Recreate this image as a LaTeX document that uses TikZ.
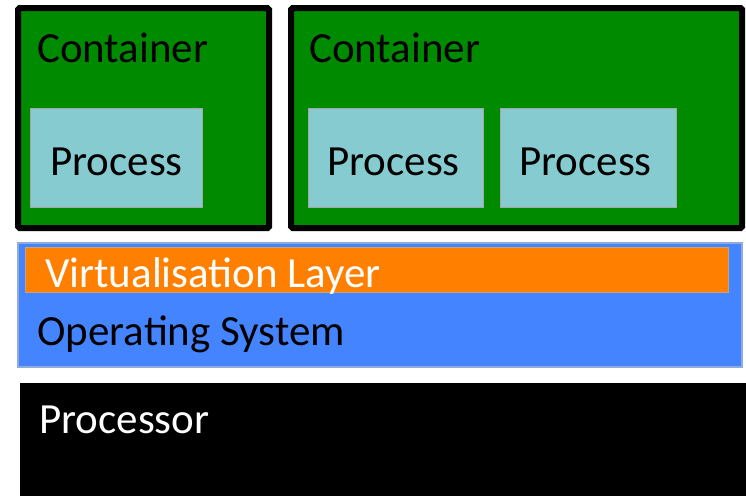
\documentclass[tikz,border=0pt]{standalone}
\usepackage{fontspec}
\setmainfont{Carlito}
\definecolor{cgreen}{HTML}{008A00}
\definecolor{cproc}{HTML}{85CBCF}
\definecolor{cblue}{HTML}{4584FF}
\definecolor{cblueline}{HTML}{8FAADC}
\definecolor{corange}{HTML}{FF7F00}
\definecolor{corangeline}{HTML}{C9A27A}
\begin{document}
\begin{tikzpicture}[x=1pt,y=-1pt,
  every node/.style={inner sep=0pt,font=\fontsize{43}{51}\selectfont},
  containerbox/.style={draw=black,fill=cgreen,line width=6pt,rounded corners=1.5pt},
  procbox/.style={draw=gray!70,fill=cproc,line width=0.8pt},
  lbl/.style={anchor=base west}]
  \useasboundingbox (0,0) rectangle (746,496);

  % containers
  \draw[containerbox] (18,8) rectangle (269,228);
  \draw[containerbox] (291,8) rectangle (742,228);
  \node[lbl] (c1) at (37,62) {Container};
  \node[lbl] (c2) at (309,62) {Container};

  % processes
  \draw[procbox] (30,108) rectangle (202,207);
  \draw[procbox] (308,108) rectangle (483,207);
  \draw[procbox] (500,108) rectangle (676,207);
  \node[lbl] (p1) at (50,175) {Process};
  \node[lbl] (p2) at (327,175) {Process};
  \node[lbl] (p3) at (519,175) {Process};

  % operating system with virtualisation layer
  \draw[draw=cblueline,fill=cblue,line width=1.2pt] (18,243) rectangle (742,367);
  \draw[draw=corangeline,fill=corange,line width=1pt] (25,247) rectangle (728,292);
  \node[lbl,text=white] (vl) at (45,287) {Virtualisation Layer};
  \node[lbl] (os) at (37,345) {Operating System};

  % processor
  \fill[black] (20,383) rectangle (746,496);
  \node[lbl,text=white] (cpu) at (39,433) {Processor};
\end{tikzpicture}
\end{document}
